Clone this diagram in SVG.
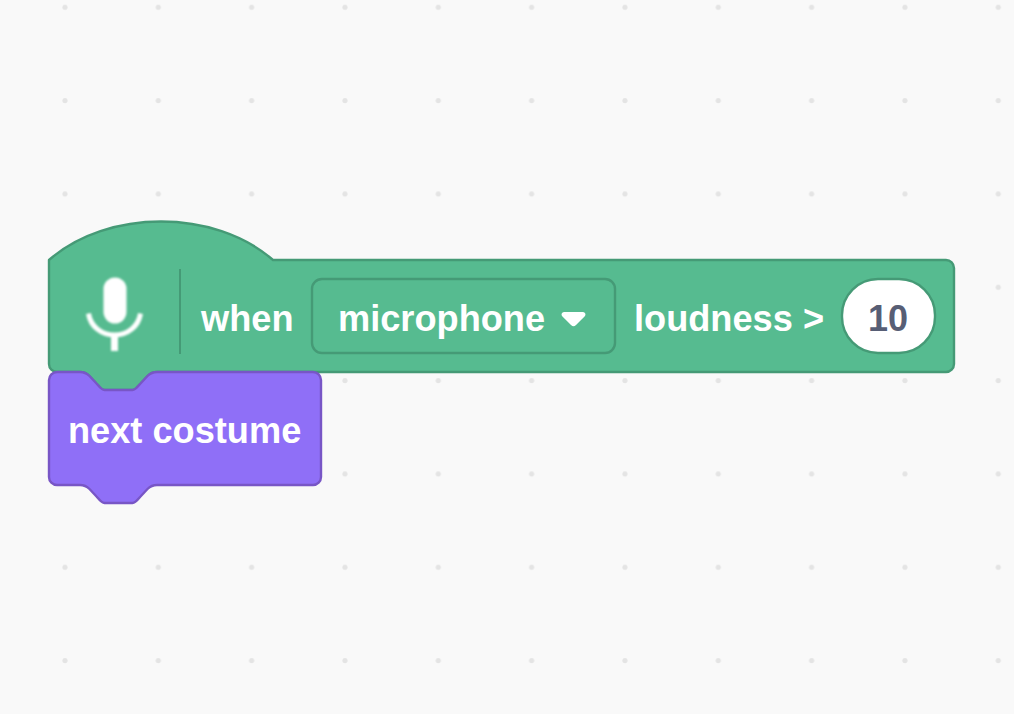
<svg xmlns="http://www.w3.org/2000/svg" width="1014" height="714" viewBox="0 0 1014 714">
<style>
.label{font-family:"Liberation Sans",Arial,sans-serif;font-size:36.2px;font-weight:700;fill:#fff}
.dot{fill:#e4e4e4}
.green{fill:#56bb90;stroke:#459a76;stroke-width:2.4px;stroke-linejoin:round}
.purple{fill:#8f6ff7;stroke:#7856c6;stroke-width:2.4px;stroke-linejoin:round}
</style>
<defs>
<pattern id="grid" width="93.33" height="93.33" patternUnits="userSpaceOnUse" x="18.3" y="6.7">
<circle class="dot" cx="46.67" cy="0.6" r="2.6"/><circle class="dot" cx="46.67" cy="93.93" r="2.6"/>
</pattern>
<filter id="soft" x="-10%" y="-10%" width="120%" height="120%"><feGaussianBlur stdDeviation="0.9"/></filter>
</defs>
<rect width="1014" height="714" fill="#f9f9f9"/>
<rect width="1014" height="714" fill="url(#grid)"/>
<g id="when-loudness">
<path class="green" d="M49 260c58.300-51.300 165.700-51.300 224 0H946a8 8 0 0 1 8 8V364a8 8 0 0 1-8 8H157c-4.500 0-7 1.500-9.500 4l-7 7.500c-2 2-4.500 6.500-8 6.500H104.500c-3.500 0-6-4.500-8-6.500l-7-7.500c-2.500-2.500-5-4-9.500-4H57a8 8 0 0 1-8-8Z"/>
<g filter="url(#soft)" fill="none" stroke="#fff">
<rect x="103.500" y="277.500" width="23" height="46" rx="11.500" fill="#fff" stroke="none"/>
<path d="M88.500 313.500c2 13 13 21.500 26 21.500s24-8.500 26-21.500" stroke-width="5"/>
<path d="M114.500 335v16" stroke-width="7"/>
</g>
<path d="M180 269V354" stroke="#459a76" stroke-width="2"/>
<text class="label" x="201" y="331">when</text>
<rect class="green" x="312" y="279" width="303" height="74" rx="10"/>
<text class="label" x="338" y="331">microphone</text>
<path d="M564 312H583a2.500 2.500 0 0 1 1.800 4.200L576 325a3.500 3.500 0 0 1-5 0L562.200 316.200A2.500 2.500 0 0 1 564 312Z" fill="#fff"/>
<text class="label" x="634" y="331">loudness &gt;</text>
<rect x="842" y="279" width="93" height="74" rx="36" fill="#fff" stroke="#459a76" stroke-width="2.400"/>
<text x="888" y="331" text-anchor="middle" font-family="'Liberation Sans',Arial,sans-serif" font-size="36" font-weight="700" fill="#575e75">10</text>
</g>
<g id="next-costume">
<path class="purple" d="M49 380a8 8 0 0 1 8-8H80c4.500 0 7 1.500 9.500 4l7 7.500c2 2 4.500 6.500 8 6.500H132.500c3.500 0 6-4.500 8-6.500l7-7.500c2.500-2.500 5-4 9.500-4H313a8 8 0 0 1 8 8V477a8 8 0 0 1-8 8H157c-4.500 0-7 1.500-9.500 4l-7 7.500c-2 2-4.500 6.500-8 6.500H104.500c-3.500 0-6-4.500-8-6.500l-7-7.500c-2.500-2.500-5-4-9.500-4H57a8 8 0 0 1-8-8Z"/>
<text class="label" x="68" y="443">next costume</text>
</g>
<g id="connectors"/>
</svg>
